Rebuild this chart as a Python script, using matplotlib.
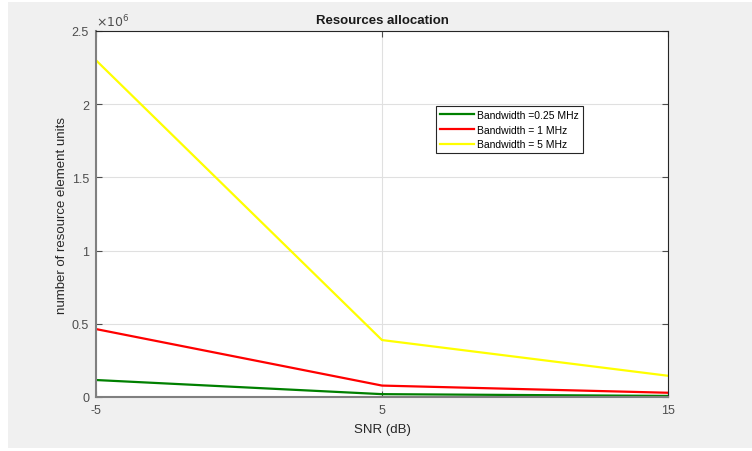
import matplotlib.pyplot as plt
from matplotlib.patches import Rectangle
from matplotlib.ticker import FuncFormatter

plt.rcParams['font.family'] = ['Liberation Sans', 'DejaVu Sans']
plt.rcParams['axes.unicode_minus'] = False

snr = [-5, 5, 15]
re_025 = [0.116e6, 0.0195e6, 0.0073e6]
re_1 = [0.464e6, 0.078e6, 0.029e6]
re_5 = [2.30e6, 0.389e6, 0.145e6]

fig = plt.figure(figsize=(7.52, 4.52), dpi=100, facecolor='white')
# grey figure area like the matlab window
fig.patches.append(Rectangle((8/752, 1-449/452), 744/752, 446/452, transform=fig.transFigure,
                             facecolor='#f0f0f0', edgecolor='none', zorder=-10))
ax = fig.add_axes([96/752, 1-398/452, 572/752, 366/452])
ax.set_facecolor('white')

ax.plot(snr, re_025, color='#008000', lw=1.6, label='Bandwidth =0.25 MHz')
ax.plot(snr, re_1, color='#ff0000', lw=1.6, label='Bandwidth = 1 MHz')
ax.plot(snr, re_5, color='#ffff00', lw=1.6, label='Bandwidth = 5 MHz')

ax.set_xlim(-5, 15)
ax.set_ylim(0, 2.5e6)
ax.set_xticks([-5, 5, 15])
ax.set_yticks([0, 0.5e6, 1e6, 1.5e6, 2e6, 2.5e6])
ax.xaxis.set_major_formatter(FuncFormatter(lambda v, p: '%g' % v))
ax.yaxis.set_major_formatter(FuncFormatter(lambda v, p: '%g' % (v / 1e6)))
ax.text(0.0, 1.005, r'$\times10^{6}$', transform=ax.transAxes, fontsize=9, color='#4d4d4d',
        ha='left', va='bottom')

ax.grid(True, color='#e0e0e0', lw=0.8)
ax.tick_params(direction='in', labelsize=9, colors='#4d4d4d', length=4, top=True, right=True,
               labeltop=False, labelright=False, pad=5)
for s in ax.spines.values():
    s.set_color('#262626')
    s.set_linewidth(0.8)
ax.spines['left'].set_color('#808080')
ax.spines['bottom'].set_color('#808080')
ax.spines['left'].set_linewidth(1.5)
ax.spines['bottom'].set_linewidth(1.5)

ax.set_title('Resources allocation', fontsize=9.5, fontweight='bold', color='#1a1a1a', pad=6)
ax.set_xlabel('SNR (dB)', fontsize=9.5, color='#262626', labelpad=5)
ax.set_ylabel('number of resource element units', fontsize=9.5, color='#262626', labelpad=3)

leg = ax.legend(loc='upper left', bbox_to_anchor=(0.585, 0.81), fontsize=7.5, handlelength=3.3,
                handletextpad=0.3, borderpad=0.4, labelspacing=0.45, fancybox=False,
                framealpha=1, edgecolor='#262626')
leg.get_frame().set_linewidth(0.8)

fig.savefig('out.png', dpi=100, facecolor=fig.get_facecolor())
